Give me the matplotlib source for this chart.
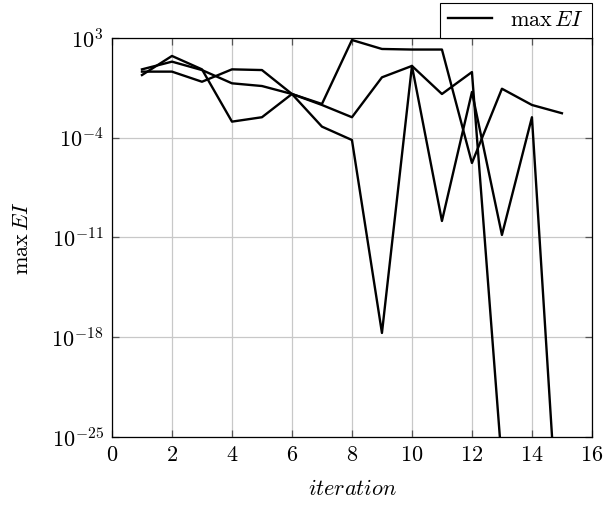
import numpy as np
import matplotlib
matplotlib.use('Agg')
import matplotlib.pyplot as plt
from matplotlib import rcParams
from matplotlib.ticker import NullLocator

rcParams['font.family'] = 'serif'
rcParams['font.serif'] = ['cmr10', 'DejaVu Serif']
rcParams['mathtext.fontset'] = 'cm'
rcParams['axes.formatter.use_mathtext'] = True
rcParams['font.size'] = 16

# log10 of max EI per iteration, three runs
iters = [1, 2, 3, 4, 5, 6, 7, 8, 9, 10, 11, 12, 13, 14, 15]
run_a = [0.80, 1.34, 0.75, -0.18, -0.37, -0.93, -1.63, 2.86, 2.23, 2.19, 2.19, -5.77, -0.56, -1.70, -2.28]
run_b = [0.40, 1.74, 0.80, -2.87, -2.56, -0.93, -1.70, -2.56, 0.24, 1.04, -0.93, 0.61, -26.9]
run_c = [0.64, 0.64, -0.07, 0.80, 0.75, -0.93, -3.22, -4.16, -17.70, 1.04, -9.84, -0.79, -10.82, -2.56, -36.0]

y_ticks = [1e3, 1e-4, 1e-11, 1e-18, 1e-25]
x_ticks = [0, 2, 4, 6, 8, 10, 12, 14, 16]

fig = plt.figure(figsize=(6.04, 5.08), dpi=100)
ax = fig.add_axes([0.1854, 0.1398, 0.7946, 0.7854])

for i, run in enumerate([run_a, run_b, run_c]):
    lab = r'$\max\,EI$' if i == 0 else None
    ax.plot(iters[:len(run)], 10.0 ** np.array(run), color='black', lw=1.7, label=lab)

ax.set_yscale('log')
ax.set_xlim(0, 16)
ax.set_ylim(1e-25, 1e3)
ax.set_xticks(x_ticks)
ax.set_yticks(y_ticks)
ax.yaxis.set_minor_locator(NullLocator())
ax.grid(True, color='#c8c8c8', lw=0.9)
ax.set_axisbelow(True)
ax.tick_params(direction='in', length=5, width=0.9, color='#555555',
               top=True, right=True, pad=6)
for s in ax.spines.values():
    s.set_linewidth(0.9)

ax.set_xlabel(r'$iteration$', labelpad=10)
ax.set_ylabel(r'$\max\,EI$', labelpad=14)

leg = ax.legend(loc='lower right', bbox_to_anchor=(1.0, 1.0), fancybox=False,
                edgecolor='black', framealpha=1, borderaxespad=0, handlelength=2.0,
                borderpad=0.35)
leg.get_frame().set_linewidth(0.8)

plt.savefig('out.png', dpi=100)
